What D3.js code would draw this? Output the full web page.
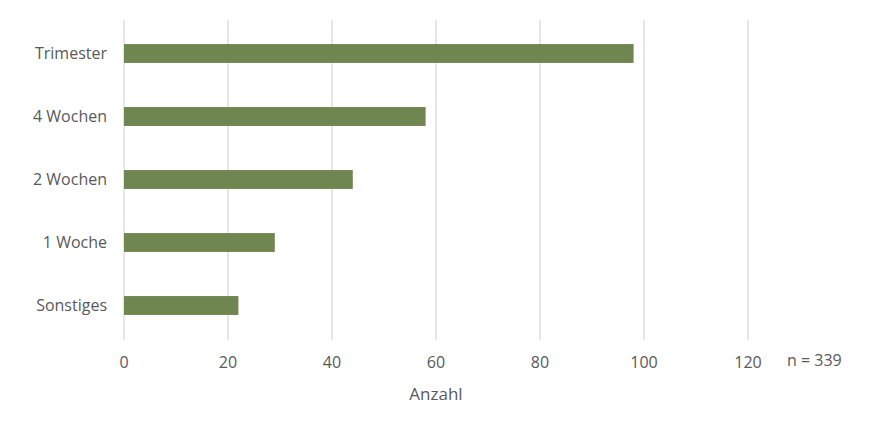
<!DOCTYPE html>
<html><head><meta charset="utf-8">
<script src="https://cdn.jsdelivr.net/npm/d3@7"></script>
<style>body{margin:0;background:#fff}text{font-family:"Open Sans",sans-serif;fill:#595959}</style>
</head><body><svg id="c" width="874" height="431"></svg>
<script>
const categories=["Trimester","4 Wochen","2 Wochen","1 Woche","Sonstiges"];
const values=[98,58,44,29,22];
const ticks=[0,20,40,60,80,100,120];
const svg=d3.select("#c");
const x=d3.scaleLinear().domain([0,120]).range([124,748]);
const y=d3.scaleBand().domain(categories).range([22,337]).paddingInner(0.7).paddingOuter(0.35);
svg.selectAll("line.g").data(ticks).join("line").attr("x1",d=>x(d)).attr("x2",d=>x(d))
 .attr("y1",20).attr("y2",340).attr("stroke","#d9d9d9").attr("stroke-width",1.3);
svg.selectAll("rect").data(values).join("rect").attr("x",x(0)).attr("y",(d,i)=>y(categories[i]))
 .attr("width",d=>x(d)-x(0)).attr("height",y.bandwidth()).attr("fill","#708650");
svg.selectAll("text.t").data(ticks).join("text").attr("x",d=>x(d)).attr("y",368)
 .attr("text-anchor","middle").attr("font-size",16).text(d=>d);
svg.selectAll("text.c").data(categories).join("text").attr("x",107).attr("y",d=>y(d)+y.bandwidth()/2)
 .attr("dy","0.35em").attr("text-anchor","end").attr("font-size",16).text(d=>d);
svg.append("text").attr("x",436).attr("y",400).attr("text-anchor","middle").attr("font-size",17).text("Anzahl");
svg.append("text").attr("x",787).attr("y",366).attr("font-size",16).text("n = 339");
</script></body></html>
